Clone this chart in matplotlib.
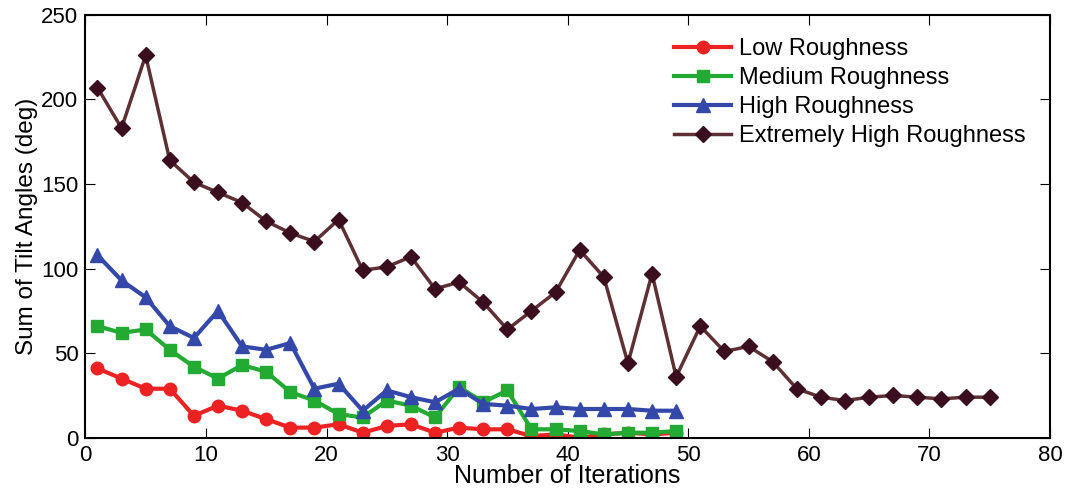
import matplotlib
matplotlib.use('Agg')
from matplotlib import pyplot as plt

plt.rcParams['font.family'] = ['Liberation Sans', 'DejaVu Sans']

iters_short = list(range(1, 50, 2))
iters_long = list(range(1, 76, 2))

low = [41, 35, 29, 29, 13, 19, 16, 11, 6, 6, 8, 3, 7, 8, 3, 6, 5, 5, 1, 2, 0, 2, 3, 2, 3]
medium = [66, 62, 64, 52, 42, 35, 43, 39, 27, 22, 14, 12, 22, 19, 12, 30, 21, 28, 5, 5, 4, 2, 3, 3, 4]
high = [108, 93, 83, 66, 59, 75, 54, 52, 56, 29, 32, 16, 28, 24, 21, 29, 20, 19, 17, 18, 17, 17, 17, 16, 16]
extreme = [207, 183, 226, 164, 151, 145, 139, 128, 121, 116, 129, 99, 101, 107, 88, 92, 80, 64,
           75, 86, 111, 95, 44, 97, 36, 66, 51, 54, 45, 29, 24, 22, 24, 25, 24, 23, 24, 24]

fig = plt.figure(figsize=(10.67, 4.93), dpi=100)
ax = fig.add_axes([0.08, 0.112, 0.904, 0.858])

ax.plot(iters_short, low, '-o', color='#ee2222', lw=3, ms=9, label='Low Roughness')
ax.plot(iters_short, medium, '-s', color='#22aa33', lw=3, ms=8, label='Medium Roughness')
ax.plot(iters_short, high, '-^', color='#3348a8', lw=3, ms=10, label='High Roughness')
ax.plot(iters_long, extreme, '-D', color='#5e3034', mfc='#3a0e1e', mec='#3a0e1e', lw=2.5, ms=8,
        label='Extremely High Roughness')

ax.set_xlim(0, 80)
ax.set_ylim(0, 250)
ax.set_xticks(range(0, 81, 10))
ax.set_yticks(range(0, 251, 50))
ax.tick_params(direction='in', top=True, right=True, labelsize=16, length=7, pad=5)
for s in ax.spines.values():
    s.set_linewidth(1.5)

ax.set_xlabel('Number of Iterations', fontsize=18, labelpad=-1)
ax.set_ylabel('Sum of Tilt Angles (deg)', fontsize=17.5, labelpad=2)
ax.legend(loc='upper right', frameon=False, fontsize=17, handlelength=2.4, handletextpad=0.35,
          labelspacing=0.3, bbox_to_anchor=(0.997, 0.995))

fig.savefig('out.png', dpi=100)
